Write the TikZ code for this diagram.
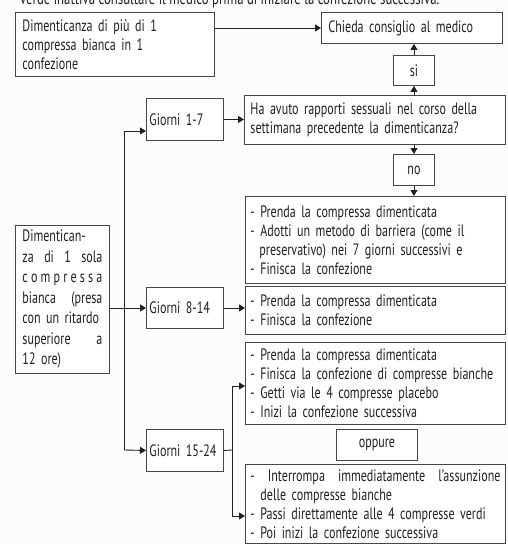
\documentclass[tikz,border=0pt]{standalone}
\usepackage{fontspec}
\setmainfont{PT Sans}[FakeStretch=0.73]
\usepackage{tikz}
\usetikzlibrary{arrows.meta}
\usepackage{xcolor}
\definecolor{inkdark}{RGB}{35,31,32}
\definecolor{framegrey}{RGB}{70,70,70}
\definecolor{paperwhite}{RGB}{252,252,252}
\newcommand{\riga}[1]{{\spaceskip=.2em plus 1fil minus .2em\makebox[\hsize][s]{#1}}}

\begin{document}
\begin{tikzpicture}[x=1pt,y=-1pt,
    font=\fontsize{16.5}{19}\selectfont,text=inkdark,
    box/.style={draw=framegrey,line width=0.9pt,fill=white,anchor=north west,
      align=left,inner xsep=7pt,inner ysep=0pt},
    daybox/.style={box,inner xsep=3pt,text width=71,minimum width=77},
    tag/.style={draw=framegrey,line width=0.9pt,fill=white,anchor=north west,
      inner sep=0pt},
    arr/.style={-{Triangle[length=6pt,width=7pt]},inkdark,line width=0.9pt},
    link/.style={inkdark,line width=0.9pt}]
  \useasboundingbox[fill=paperwhite] (0,0) rectangle (508,544);
  % riga tagliata in alto
  \node[anchor=base west,inner sep=0pt,font=\fontsize{17.5}{19}\selectfont] (intro) at (20,4)
    {verde inattiva consultare il medico prima di iniziare la confezione successiva.};
  % piu di una compressa
  \node[box,text width=185,minimum height=64] (dimpiu) at (15,12)
    {Dimenticanza di più di 1\\compressa bianca in 1\\confezione};
  \node[box,text width=167,minimum height=31] (medico) at (321,12)
    {Chieda consiglio al medico};
  \node[tag,minimum width=41,minimum height=30] (si) at (393,55) {si};
  \node[box,inner xsep=6pt,text width=249,minimum height=49] (domanda) at (244,95)
    {Ha avuto rapporti sessuali nel corso della\\settimana precedente la dimenticanza?};
  \node[tag,minimum width=41,minimum height=31] (no) at (393,154) {no};
  % una sola compressa
  \node[box,text width=80,minimum height=148,font=\fontsize{16.5}{20.5}\selectfont]
    (dimsola) at (15,225)
    {Dimentican-\\\riga{za di 1 sola}\\\riga{c o m p r e s s a}\\\riga{bianca (presa}\\
     \mbox{con un ritardo}\\\riga{superiore a}\\12 ore)};
  \node[daybox,minimum height=42] (giorni1) at (146,98) {Giorni 1-7};
  \node[daybox,minimum height=41] (giorni2) at (146,287) {Giorni 8-14};
  \node[daybox,minimum height=42] (giorni3) at (146,429) {Giorni 15-24};
  % azioni
  \node[box,inner xsep=5pt,text width=250,minimum height=87] (azione1) at (245,196)
    {- Prenda la compressa dimenticata\\- Adotti un metodo di barriera (come il\\
     \hspace*{9pt}preservativo) nei 7 giorni successivi e\\- Finisca la confezione};
  \node[box,inner xsep=5pt,text width=250,minimum height=48] (azione2) at (245,286)
    {- Prenda la compressa dimenticata\\- Finisca la confezione};
  \node[box,inner xsep=5pt,text width=250,minimum height=82] (azione3a) at (245,342)
    {- Prenda la compressa dimenticata\\- Finisca la confezione di compresse bianche\\
     - Getti via le 4 compresse placebo\\- Inizi la confezione successiva};
  \node[tag,minimum width=81,minimum height=31] (oppure) at (336,429) {oppure};
  \node[box,inner xsep=5pt,text width=250,inner ysep=5pt] (azione3b) at (245,464)
    {\riga{-\ \ Interrompa\ \ immediatamente\ \ l'assunzione}\\
     \hspace*{10pt}delle compresse bianche\\- Passi direttamente alle 4 compresse verdi\\
     - Poi inizi la confezione successiva};
  % connettori in alto
  \draw[arr] (dimpiu.east |- medico.west) -- (medico.west);
  \draw[arr] (si.north) -- (si.north |- medico.south);
  \draw[arr] (si.south |- domanda.north) -- (si.south);
  \draw[arr] (giorni1.east) -- (giorni1.east -| domanda.west);
  \draw[arr] (no.north |- domanda.south) -- (no.north);
  \draw[arr] (no.south) -- (no.south |- azione1.north);
  % tronco sinistro
  \coordinate (t1) at (124,131);
  \coordinate (t3) at (124,450);
  \draw[link] (t1) -- (t3);
  \draw[arr] (t1) -- (t1 -| giorni1.west);
  \draw[arr] (t3) -- (giorni3.west);
  \draw[arr] (dimsola.east |- giorni2.west) -- (giorni2.west);
  \draw[arr] (giorni2.east) -- (giorni2.east -| azione2.west);
  % biforcazione giorni 15-24
  \coordinate (fork) at (232,450);
  \coordinate (f1) at (232,386);
  \coordinate (f2) at (232,516);
  \draw[link] (giorni3.east) -- (fork);
  \draw[link] (f1) -- (f2);
  \draw[arr] (f1) -- (f1 -| azione3a.west);
  \draw[arr] (f2) -- (f2 -| azione3b.west);
\end{tikzpicture}
\end{document}
